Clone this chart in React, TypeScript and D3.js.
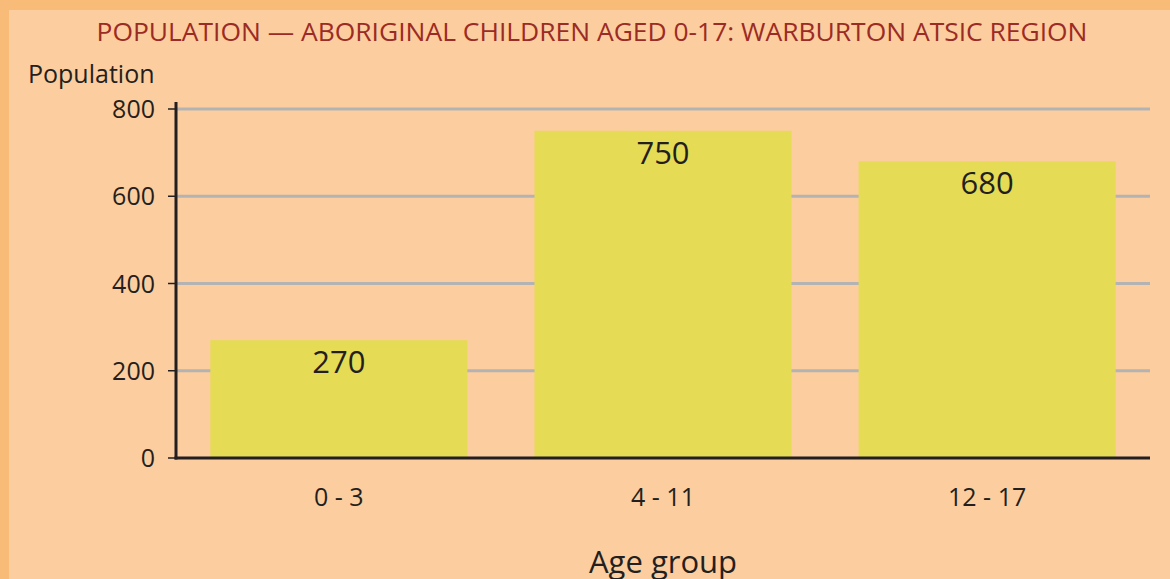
import * as d3 from 'd3';

const categories = ['0 - 3', '4 - 11', '12 - 17'];
const populations = [270, 750, 680];
const yTicks = [0, 200, 400, 600, 800];

const width = 1170,
	height = 579;

const margin = { left: 176, right: 20, top: 109, bottom: 121 };

const font = '"Open Sans", "Noto Sans", sans-serif';

export default function App() {
	const innerRight = width - margin.right;
	const zeroY = height - margin.bottom;

	const xScale = d3
		.scaleBand<string>()
		.domain(categories)
		.range([margin.left, innerRight])
		.paddingInner(0.207)
		.paddingOuter(0.106);
	const yScale = d3.scaleLinear().domain([0, 800]).range([zeroY, margin.top]);

	return (
		<svg
			width={width}
			height={height}
			viewBox={`0 0 ${width} ${height}`}
			style={{ position: 'absolute', left: 0, top: 0, fontFamily: font }}
		>
			{/* background + border strips */}
			<rect x={0} y={0} width={width} height={height} fill="#fccd9e" />
			<rect x={0} y={0} width={width} height={10} fill="#f8bc78" />
			<rect x={0} y={0} width={9} height={height} fill="#f8bc78" />

			<text
				x={592}
				y={41}
				textAnchor="middle"
				fill="#9b2b25"
				fontSize={26}
				textLength={991}
				lengthAdjust="spacingAndGlyphs"
			>
				POPULATION — ABORIGINAL CHILDREN AGED 0-17: WARBURTON ATSIC REGION
			</text>

			{/* gridlines */}
			{yTicks
				.filter((d) => d !== 0)
				.map((d) => (
					<line
						key={d}
						x1={margin.left}
						x2={innerRight}
						y1={yScale(d)}
						y2={yScale(d)}
						stroke="#b3b3b3"
						strokeWidth={3}
					/>
				))}

			{/* bars */}
			{categories.map((c, i) => (
				<g key={c}>
					<rect
						x={xScale(c)}
						y={yScale(populations[i])}
						width={xScale.bandwidth()}
						height={zeroY - yScale(populations[i])}
						fill="#e5db54"
					/>
					<text
						x={xScale(c)! + xScale.bandwidth() / 2}
						y={yScale(populations[i]) + 33}
						textAnchor="middle"
						fontSize={31}
						fill="#231f20"
					>
						{populations[i]}
					</text>
				</g>
			))}

			{/* left axis */}
			<g fill="#231f20" fontSize={25}>
				<line
					x1={margin.left}
					x2={margin.left}
					y1={margin.top - 7}
					y2={zeroY + 1.5}
					stroke="#231f20"
					strokeWidth={3}
				/>
				{yTicks.map((d) => (
					<g key={d} transform={`translate(${margin.left}, ${yScale(d)})`}>
						<line x1={-8} x2={0} y1={0} y2={0} stroke="#231f20" strokeWidth={1.5} />
						<text x={-21} dy="0.36em" textAnchor="end">
							{d}
						</text>
					</g>
				))}
				<text x={28} y={83} fontSize={25}>
					Population
				</text>
			</g>

			{/* bottom axis */}
			<g fill="#231f20" fontSize={25}>
				<line
					x1={margin.left - 1.5}
					x2={innerRight}
					y1={zeroY}
					y2={zeroY}
					stroke="#231f20"
					strokeWidth={3}
				/>
				{categories.map((c) => (
					<text
						key={c}
						x={xScale(c)! + xScale.bandwidth() / 2}
						y={zeroY + 48}
						textAnchor="middle"
					>
						{c}
					</text>
				))}
				<text x={(margin.left + innerRight) / 2} y={573} textAnchor="middle" fontSize={31}>
					Age group
				</text>
			</g>
		</svg>
	);
}
